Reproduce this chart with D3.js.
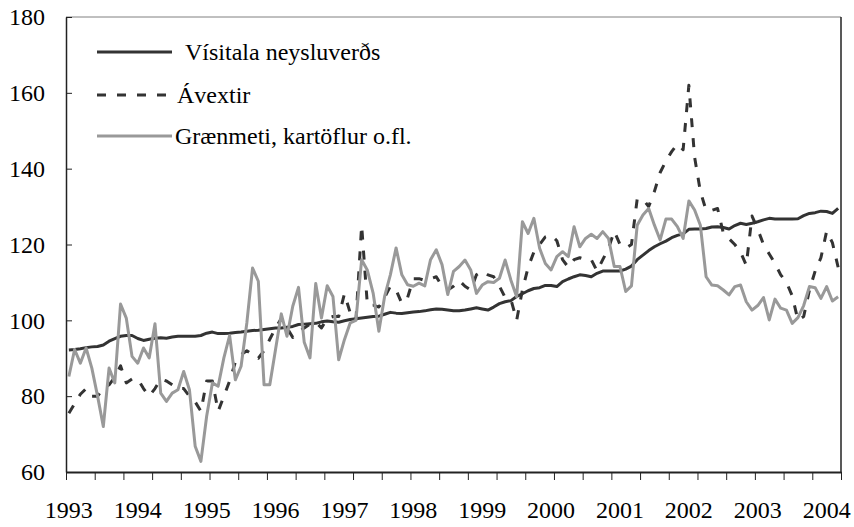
<!DOCTYPE html>
<html>
<head>
<meta charset="utf-8">
<script src="https://cdn.jsdelivr.net/npm/d3@7"></script>
<style>
  body { margin: 0; background: #fff; }
  svg text { font-family: 'Liberation Serif', serif !important; }
</style>
</head>
<body>
<svg id="chart" width="854" height="527"></svg>
<script>
// Mánaðarleg gögn, jan 1993 - mars 2004
const years = ["1993","1994","1995","1996","1997","1998","1999","2000","2001","2002","2003","2004"];
const yTicks = [60, 80, 100, 120, 140, 160, 180];

const visitala = [
  92.2,92.3,92.5,92.8,93,93.1,93.5,94.5,95.2,95.8,96,96,
  95.2,94.7,95,95.3,95.4,95.3,95.6,95.8,95.8,95.8,95.8,96,
  96.6,96.9,96.5,96.5,96.6,96.8,96.9,97.1,97.3,97.4,97.6,97.8,
  98,98,98.2,98.4,98.9,99,99.1,99.2,99.6,99.8,99.6,99.5,
  99.9,100.2,100.4,100.6,100.8,101,101.1,101.6,102.1,101.9,101.8,102,
  102.2,102.3,102.5,102.8,103,102.9,102.7,102.5,102.5,102.7,103,103.3,
  103,102.7,103.5,104.4,104.9,105.2,106.3,107,107.8,108.4,108.6,109.2,
  109.2,108.9,110.2,110.9,111.5,112,111.8,111.5,112.4,113,113,113,
  113,113.5,114.3,116,117.2,118.4,119.4,120.2,120.9,121.8,122.4,122.8,
  124,124.1,124.1,124.2,124.6,124.7,124.5,124.1,125,125.6,125.3,125.6,
  126,126.5,126.9,126.7,126.7,126.7,126.7,126.8,127.6,128.2,128.4,128.8,
  128.7,128.2,129.5
];

const avextir = [
  75.5,78,80.5,82,80,80,82,83,85,88,83.5,84.5,
  84.5,82,80,82,84.5,84,83,82,82,80,78.5,76,
  84,84,76,80,84,89,91,92,91,90,92,95,
  98,100.5,98,95.5,97,98,99,99.5,98,100.5,101,101,
  107,102,100,125,104,104,103.5,106,109,108,104.5,106,
  111,111,110.5,111,111.5,109,108,109,110.5,109,108,112,
  113,112,111.5,109,106,105.5,100,108,114,118,120,122,
  122.5,121,116,114,116,116.5,116,116,113,116,119,123.5,
  120,119,120,132,132,130,134,139,142,144.5,146.5,145,
  162,143,134,129,129,129.5,123,121.5,120,118,114.5,127.5,
  124,120,117.5,115,112,110,106.5,100,101,108,113,116.5,
  123.5,120.5,114
];

const graenmeti = [
  85.2,92.3,88.7,92.7,87.4,80,72,87.4,83.5,104.3,100.6,90.5,
  88.7,92.7,90.1,99.1,80.8,78.6,80.8,81.7,86.5,81.7,66.8,62.8,
  74.7,83.5,82.6,90.1,96,84.3,87.9,99.3,113.8,110.3,83,83,
  92.3,101.7,95.8,103.7,108.7,94.2,90.1,109.7,100.6,109.1,106.3,89.6,
  94.9,99.3,100,116,113.2,107.2,97.1,106.3,112,119.1,112,109.4,
  109,109.8,109.1,116,118.6,114.7,106.8,112.9,114.2,115.9,113.3,107.1,
  109.3,110.2,110,111.1,115.9,110.6,106.2,126,122.9,126.9,119,115,
  113.3,116.8,118.1,116.8,124.7,119.4,121.6,122.7,121.6,123.4,121.6,114.2,
  114.2,107.6,109.1,125.1,127.8,129.5,125.1,121.2,126.7,126.7,124.7,121.6,
  131.5,129.1,125.1,111.5,109.3,109.1,108,106.7,108.9,109.3,104.9,102.7,
  103.9,106,100.1,105.6,103.2,102.7,99.2,100.7,103.9,108.9,108.6,105.8,
  108.9,105.1,106.2
];

const series = [
  { name: "Vísitala neysluverðs", values: visitala, color: "#333333", dash: null },
  { name: "Ávextir", values: avextir, color: "#333333", dash: "9,11" },
  { name: "Grænmeti, kartöflur o.fl.", values: graenmeti, color: "#999999", dash: null }
];

const FONT = "'Liberation Serif'";

const plot = { left: 66, right: 841, top: 17, bottom: 472 };
const nMonths = visitala.length;

const svg = d3.select("#chart");

const x = d3.scaleLinear().domain([0, nMonths]).range([plot.left, plot.right]);
const y = d3.scaleLinear().domain([60, 180]).range([plot.bottom, plot.top]);

// ramminn
svg.append("line")
  .attr("x1", plot.left).attr("x2", plot.right)
  .attr("y1", plot.top).attr("y2", plot.top)
  .attr("stroke", "#808080").attr("stroke-width", 1);
svg.append("line")
  .attr("x1", plot.right).attr("x2", plot.right)
  .attr("y1", plot.top).attr("y2", plot.bottom)
  .attr("stroke", "#222").attr("stroke-width", 1.5);

// y-ás
const yAxis = svg.append("g")
  .attr("transform", "translate(" + plot.left + ",0)")
  .call(d3.axisLeft(y).tickValues(yTicks).tickSizeInner(-6).tickSizeOuter(0).tickPadding(21));
yAxis.attr("font-family", null).attr("font-size", null);
yAxis.select(".domain").attr("stroke", "#222").attr("stroke-width", 1.5);
yAxis.selectAll(".tick line").attr("stroke", "#222");
yAxis.selectAll("text")
  .attr("fill", "#000")
  .attr("font-family", "Liberation Serif")
  .style("font-family", FONT)
  .style("font-size", "24px");

// x-ás, merki á 5 mánaða fresti
const xTickVals = d3.range(0, nMonths + 1, 5);
const xAxis = svg.append("g")
  .attr("transform", "translate(0," + plot.bottom + ")")
  .call(d3.axisBottom(x).tickValues(xTickVals).tickSizeInner(8).tickSizeOuter(0).tickFormat(""));
xAxis.attr("font-family", null).attr("font-size", null);
xAxis.select(".domain").attr("stroke", "#222").attr("stroke-width", 2);
xAxis.selectAll(".tick line").attr("stroke", "#222");

svg.append("g")
  .selectAll("text")
  .data(years)
  .join("text")
  .attr("x", (d, i) => x(i * 12 + 0.5))
  .attr("y", 518)
  .attr("text-anchor", "middle")
  .attr("font-family", "Liberation Serif")
  .style("font-family", FONT)
  .style("font-size", "24px")
  .text(d => d);

// línur
const line = d3.line()
  .x((d, i) => x(i + 0.5))
  .y(d => y(d));

series.forEach(s => {
  svg.append("path")
    .datum(s.values)
    .attr("d", line)
    .attr("fill", "none")
    .attr("stroke", s.color)
    .attr("stroke-width", 3)
    .attr("stroke-linejoin", "round")
    .attr("stroke-dasharray", s.dash);
});

// skýringar
const legendY = [52, 95, 136];
const legendTextX = [185, 177, 175];
const legend = svg.append("g");
series.forEach((s, i) => {
  legend.append("line")
    .attr("x1", 97).attr("x2", 172)
    .attr("y1", legendY[i]).attr("y2", legendY[i])
    .attr("stroke", s.color)
    .attr("stroke-width", 3)
    .attr("stroke-dasharray", s.dash);
  legend.append("text")
    .attr("x", legendTextX[i])
    .attr("y", legendY[i] + 8)
    .attr("font-family", "Liberation Serif")
    .style("font-family", FONT)
    .style("font-size", "24px")
    .text(s.name);
});
</script>
</body>
</html>
